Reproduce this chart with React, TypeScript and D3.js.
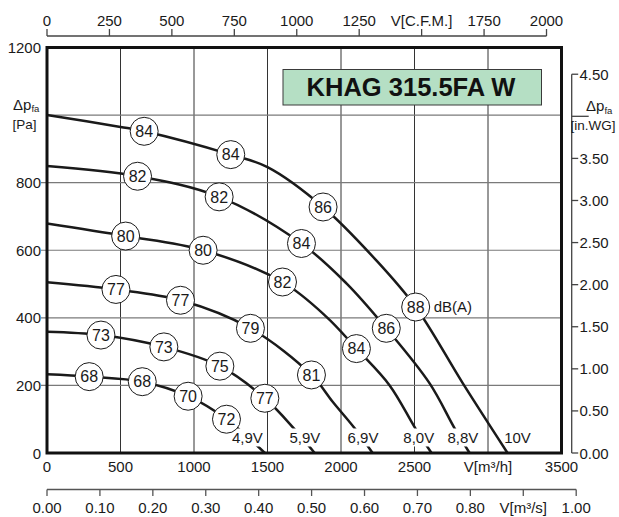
import React from 'react';
import * as d3 from 'd3';

// ---------- axis data ----------
const flowTicks = [0, 500, 1000, 1500, 2000, 2500, 3000, 3500];
const flowTickLabels = ['0', '500', '1000', '1500', '2000', '2500', 'V[m³/h]', '3500'];
const pressureTicks = [0, 200, 400, 600, 800, 1000, 1200];
const pressureTickLabels = ['0', '200', '400', '600', '800', '', '1200'];
const cfmTicks = [0, 250, 500, 750, 1000, 1250, 1500, 1750, 2000];
const cfmTickLabels = ['0', '250', '500', '750', '1000', '1250', 'V[C.F.M.]', '1750', '2000'];
const m3sTicks = [0, 0.1, 0.2, 0.3, 0.4, 0.5, 0.6, 0.7, 0.8, 0.9, 1.0];
const m3sTickLabels = ['0.00', '0.10', '0.20', '0.30', '0.40', '0.50', '0.60', '0.70', '0.80', 'V[m³/s]', '1.00'];
const inwgTicks = [0, 0.5, 1.0, 1.5, 2.0, 2.5, 3.0, 3.5, 4.0, 4.5];
const inwgTickLabels = ['0.00', '0.50', '1.00', '1.50', '2.00', '2.50', '3.00', '3.50', '', '4.50'];

const CFM_TO_M3H = 1.69901;
const M3S_TO_M3H = 3600;
const INWG_TO_PA = 249.089;

const title = 'KHAG 315.5FA W';

// ---------- curve data: [flow m³/h, pressure Pa] ----------
const curve49: [number, number][] = [[0, 233], [287, 226], [648, 211], [960, 168], [1221, 100], [1482, 0]];
const curve59: [number, number][] = [[0, 359], [367, 349], [795, 314], [1176, 257], [1482, 162], [1685, 70], [1821, 0]];
const curve69: [number, number][] = [[0, 505], [469, 484], [908, 452], [1384, 369], [1799, 231], [1946, 150], [2093, 73], [2215, 0]];
const curve80: [number, number][] = [[0, 679], [535, 642], [1062, 600], [1602, 506], [1901, 403], [2105, 309], [2331, 200], [2506, 73], [2616, 0]];
const curve88: [number, number][] = [[0, 849], [616, 819], [1171, 758], [1731, 620], [2037, 502], [2308, 369], [2603, 206], [2773, 73], [2875, 0]];
const curve100: [number, number][] = [[0, 1000], [500, 965], [661, 952], [1250, 883], [1500, 846], [1878, 728], [2240, 570], [2508, 432], [2829, 206], [3133, 0]];

// ---------- sound level labels: [flow, pressure, dB(A)] ----------
const sound49 = [[287, 226, 68], [648, 211, 68], [960, 168, 70], [1221, 100, 72]];
const sound59 = [[367, 349, 73], [795, 314, 73], [1176, 257, 75], [1482, 162, 77]];
const sound69 = [[469, 484, 77], [908, 452, 77], [1384, 369, 79], [1799, 231, 81]];
const sound80 = [[535, 642, 80], [1062, 600, 80], [1602, 506, 82], [2105, 309, 84]];
const sound88 = [[616, 819, 82], [1171, 758, 82], [1731, 620, 84], [2308, 369, 86]];
const sound100 = [[661, 952, 84], [1250, 883, 84], [1878, 728, 86], [2508, 432, 88]];

const voltageLabels = ['4,9V', '5,9V', '6,9V', '8,0V', '8,8V', '10V'];
const voltageLabelFlow = [1363, 1754, 2150, 2529, 2829, 3201];
const voltageLabelPressure = 43;

const curves = [curve49, curve59, curve69, curve80, curve88, curve100];
const sounds = [sound49, sound59, sound69, sound80, sound88, sound100];

const W = 619;
const H = 517;
const FONT = '"Liberation Sans", Arial, Helvetica, sans-serif';
const INK = '#1a1a1a';

export default function App() {
  const x = d3.scaleLinear().domain([0, 3500]).range([47, 561.5]);
  const y = d3.scaleLinear().domain([0, 1200]).range([453, 47.5]);
  const line = d3
    .line<[number, number]>()
    .x((d) => x(d[0]))
    .y((d) => y(d[1]))
    .curve(d3.curveCatmullRom.alpha(0.5));

  const [x0, x1] = x.range();
  const [yb, yt] = y.range();
  const topAxisY = 36;
  const m3sAxisY = 489.5;
  const rightAxisX = 571.7;

  return (
    <svg
      width={W}
      height={H}
      style={{ position: 'absolute', left: 0, top: 0, background: '#fff' }}
      fontFamily={FONT}
    >
      <rect x={0} y={0} width={W} height={H} fill="#fff" />

      {/* grid */}
      {flowTicks.slice(1, -1).map((f) => (
        <line key={'vg' + f} x1={x(f)} x2={x(f)} y1={yt} y2={yb} stroke="#333" strokeWidth={1} />
      ))}
      {pressureTicks.slice(1, -1).map((p) => (
        <line key={'hg' + p} x1={p === 1000 ? x0 : 41} x2={x1} y1={y(p)} y2={y(p)} stroke="#7a7a7a" strokeWidth={1.2} />
      ))}

      {/* title box */}
      <rect x={283} y={69.5} width={258.5} height={35.5} fill="#b5dfc4" stroke="#3a3a3a" strokeWidth={1} />
      <text x={411} y={95.5} textAnchor="middle" fontSize={25.5} fontWeight="bold" fill="#111">
        {title}
      </text>

      {/* curves */}
      {curves.map((c, i) => (
        <path key={'c' + i} d={line(c) || ''} fill="none" stroke={INK} strokeWidth={2.5} />
      ))}

      {/* voltage labels */}
      {voltageLabels.map((v, i) => {
        const cx = x(voltageLabelFlow[i]);
        const cy = y(voltageLabelPressure);
        const wdt = v.length * 8 + 4;
        return (
          <g key={'v' + i}>
            {i < voltageLabels.length - 1 && (
              <rect x={cx - wdt / 2} y={cy - 10} width={wdt} height={18} fill="#fff" />
            )}
            <text x={cx} y={cy + 5} textAnchor="middle" fontSize={15} fill={INK}>
              {v}
            </text>
          </g>
        );
      })}

      {/* sound level circles */}
      {sounds.map((s, i) =>
        s.map((d, j) => (
          <g key={'s' + i + '-' + j}>
            <circle cx={x(d[0])} cy={y(d[1])} r={14} fill="#fff" stroke={INK} strokeWidth={1} />
            <text x={x(d[0])} y={y(d[1])} dy="0.36em" textAnchor="middle" fontSize={16} fill={INK}>
              {d[2]}
            </text>
          </g>
        ))
      )}
      <text
        x={x(sound100[3][0]) + 18}
        y={y(sound100[3][1])}
        dy="0.36em"
        fontSize={15}
        fill={INK}
      >
        dB(A)
      </text>

      {/* plot frame */}
      <rect x={x0} y={yt} width={x1 - x0} height={yb - yt} fill="none" stroke="#111" strokeWidth={3} />

      {/* left axis labels */}
      {pressureTicks.map((p, i) => (
        <text key={'pl' + p} x={41} y={y(p) + 5.5} textAnchor="end" fontSize={15} fill={INK}>
          {pressureTickLabels[i]}
        </text>
      ))}
      <text x={13} y={109.5} fontSize={15} fill={INK}>
        Δp
        <tspan fontSize={9.5} dy={2.5}>fa</tspan>
      </text>
      <text x={12.5} y={128.5} fontSize={13.5} fill={INK}>
        [Pa]
      </text>

      {/* bottom flow labels */}
      {flowTicks.map((f, i) => (
        <text key={'fl' + f} x={x(f)} y={472} textAnchor="middle" fontSize={15} fill={INK}>
          {flowTickLabels[i]}
        </text>
      ))}

      {/* top CFM axis */}
      <line x1={x(0)} x2={x(cfmTicks[cfmTicks.length - 1] * CFM_TO_M3H)} y1={topAxisY} y2={topAxisY} stroke="#444" strokeWidth={1.3} />
      {cfmTicks.map((c, i) => (
        <g key={'cf' + c}>
          <line x1={x(c * CFM_TO_M3H)} x2={x(c * CFM_TO_M3H)} y1={topAxisY} y2={topAxisY - 7} stroke="#444" strokeWidth={1.3} />
          <text x={x(c * CFM_TO_M3H)} y={26} textAnchor="middle" fontSize={15} fill={INK}>
            {cfmTickLabels[i]}
          </text>
        </g>
      ))}

      {/* bottom m³/s axis */}
      <line x1={x(0)} x2={x(M3S_TO_M3H)} y1={m3sAxisY} y2={m3sAxisY} stroke="#555" strokeWidth={1.3} />
      {m3sTicks.map((m, i) => (
        <g key={'ms' + i}>
          <line x1={x(m * M3S_TO_M3H)} x2={x(m * M3S_TO_M3H)} y1={m3sAxisY} y2={m3sAxisY + 6.5} stroke="#555" strokeWidth={1.3} />
          <text x={x(m * M3S_TO_M3H)} y={512.5} textAnchor="middle" fontSize={15} fill={INK}>
            {m3sTickLabels[i]}
          </text>
        </g>
      ))}

      {/* right in.WG axis */}
      <line x1={rightAxisX} x2={rightAxisX} y1={y(0)} y2={y(4.5 * INWG_TO_PA)} stroke="#444" strokeWidth={1.3} />
      {inwgTicks.map((w, i) => (
        <g key={'iw' + i}>
          <line
            x1={rightAxisX}
            x2={inwgTickLabels[i] === '' ? rightAxisX + 17 : rightAxisX + 6.5}
            y1={y(w * INWG_TO_PA)}
            y2={y(w * INWG_TO_PA)}
            stroke="#444"
            strokeWidth={1.3}
          />
          <text x={579.5} y={y(w * INWG_TO_PA) + 5.5} fontSize={15} fill={INK}>
            {inwgTickLabels[i]}
          </text>
        </g>
      ))}
      <text x={586} y={111} fontSize={15} fill={INK}>
        Δp
        <tspan fontSize={9.5} dy={2.5}>fa</tspan>
      </text>
      <text x={570.5} y={130} fontSize={13.5} fill={INK}>
        [in.WG]
      </text>
    </svg>
  );
}
